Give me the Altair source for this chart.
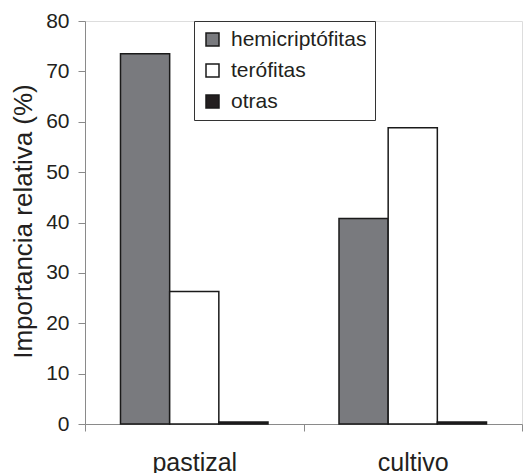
import altair as alt
import pandas as pd

categories = ["pastizal", "cultivo"]
groups = ["hemicriptófitas", "terófitas", "otras"]
hemicriptofitas = [73.5, 40.8]
terofitas = [26.3, 58.8]
otras = [0.4, 0.4]
colors = ["#797a7e", "#ffffff", "#231f20"]

rows = []
for i, c in enumerate(categories):
    for g, vals in zip(groups, [hemicriptofitas, terofitas, otras]):
        rows.append({"sitio": c, "tipo": g, "valor": vals[i]})
df = pd.DataFrame(rows)

text_color = "#231f20"
axis_color = "#8a8a8a"

chart = alt.Chart(df).mark_bar(stroke="#1a1a1a", strokeWidth=1.5).encode(
    x=alt.X("sitio:N", sort=categories,
            scale=alt.Scale(paddingInner=0, paddingOuter=0),
            axis=alt.Axis(title=None, labelAngle=0, labelFontSize=25, labelColor=text_color,
                          labelFont="Liberation Sans", tickBand="extent", tickSize=7,
                          tickColor=axis_color, domainColor=axis_color, labelPadding=19,
                          tickWidth=1, domainWidth=1)),
    xOffset=alt.XOffset("tipo:N", sort=groups, scale=alt.Scale(paddingInner=0, paddingOuter=0.722)),
    y=alt.Y("valor:Q", scale=alt.Scale(domain=[0, 80], nice=False),
            axis=alt.Axis(title="Importancia relativa (%)", values=[0, 10, 20, 30, 40, 50, 60, 70, 80],
                          grid=False, labelFontSize=21, labelColor=text_color, labelFont="Liberation Sans",
                          tickSize=7, tickColor=axis_color, domainColor=axis_color, labelPadding=9,
                          titleFontSize=26, titleFont="Liberation Sans", titleColor=text_color,
                          titleFontWeight="normal", titleAngle=-90, titleX=-54, titleY=200,
                          titleBaseline="alphabetic", titleAlign="center")),
    color=alt.Color("tipo:N", sort=groups,
                    scale=alt.Scale(domain=groups, range=colors),
                    legend=alt.Legend(title=None, orient="none", legendX=109, legendY=0,
                                      direction="vertical",
                                      strokeColor="#333333", fillColor="white", padding=8,
                                      symbolType="square", symbolSize=169,
                                      symbolStrokeColor="#1a1a1a", symbolStrokeWidth=1.5,
                                      labelFontSize=21, labelFont="Liberation Sans",
                                      labelColor=text_color, labelOffset=8, rowPadding=9)),
).properties(
    width=437, height=403,
    autosize="none",
    padding={"left": 85, "top": 21, "right": 7, "bottom": 49},
).configure_view(stroke=None).configure(background="white")

chart.save("out.html", embed_options={"renderer": "svg", "actions": False})
